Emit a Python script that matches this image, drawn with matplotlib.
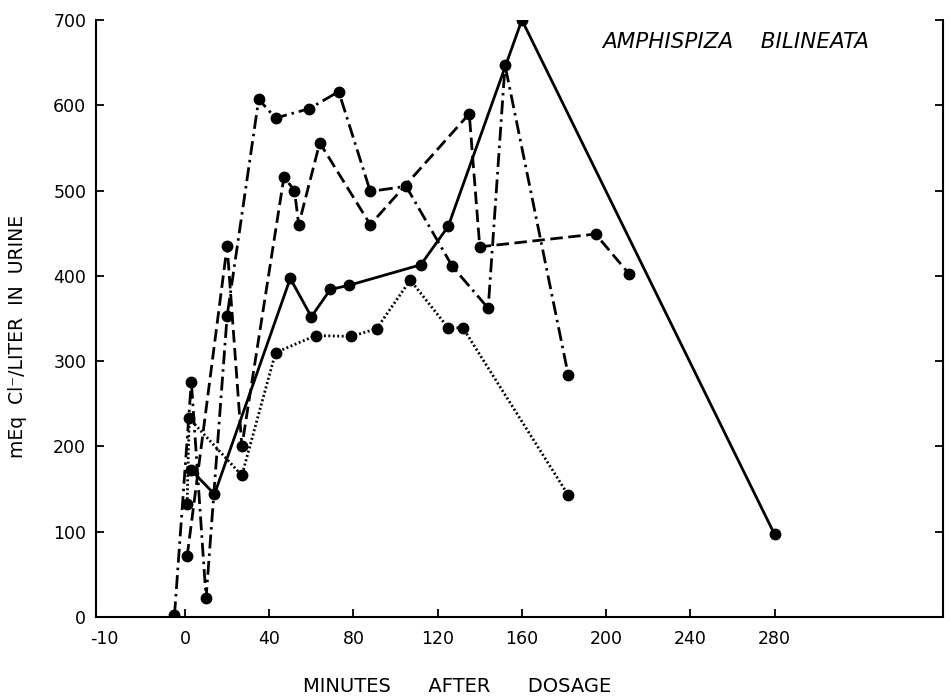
import matplotlib
matplotlib.use("Agg")
import matplotlib.pyplot as plt

# minutes after dosage / mEq Cl- per liter
solid_x = [3, 14, 50, 60, 69, 78, 112, 125, 160, 280]
solid_y = [172, 144, 397, 352, 384, 389, 413, 458, 700, 97]

dashed_x = [1, 20, 27, 47, 52, 54, 64, 88, 135, 140, 195, 211]
dashed_y = [71, 435, 200, 516, 500, 460, 556, 460, 590, 434, 449, 402]

dashdot_x = [-5, 3, 10, 20, 35, 43, 59, 73, 88, 105, 127, 144, 152, 182]
dashdot_y = [2, 276, 22, 353, 607, 585, 596, 616, 499, 505, 411, 362, 647, 284]

dotted_x = [1, 2, 27, 43, 62, 79, 91, 107, 125, 132, 182]
dotted_y = [133, 233, 166, 310, 330, 329, 338, 395, 339, 339, 143]

xticks = [0, 40, 80, 120, 160, 200, 240, 280]
yticks = [0, 100, 200, 300, 400, 500, 600, 700]

plt.rcParams["font.family"] = "DejaVu Sans"

fig = plt.figure(figsize=(9.5, 6.96), dpi=100)
ax = fig.add_axes([0.101, 0.1135, 0.8916, 0.8578])

kw = dict(color="black", lw=2.0, marker="o", ms=7.5, mfc="black", mec="black")
ax.plot(solid_x, solid_y, ls="-", **kw)
ax.plot(dashed_x, dashed_y, ls=(0, (4.5, 2)), **kw)
ax.plot(dashdot_x, dashdot_y, ls=(0, (5, 1.8, 0.9, 1.8)), **kw)
ax.plot(dotted_x, dotted_y, ls=(0, (0.7, 0.9)), **kw)

ax.set_xlim(-42.3, 360)
ax.set_ylim(0, 700)
ax.set_xticks(xticks)
ax.set_yticks(yticks)
ax.tick_params(direction="in", length=6, width=1.3, labelsize=12.5, pad=9,
               right=True, top=False)
ax.tick_params(axis="y", pad=7)
ax.spines["top"].set_visible(False)
for s in ["left", "right", "bottom"]:
    ax.spines[s].set_linewidth(1.5)
ax.text(-38.5, -0.021, "-10", transform=ax.get_xaxis_transform(),
        ha="center", va="top", fontsize=12.5)

ax.text(0.755, 0.963, "AMPHISPIZA    BILINEATA", transform=ax.transAxes,
        ha="center", va="center", fontsize=15.5, style="italic")

fig.text(457 / 950, 1 - 686 / 696, "MINUTES      AFTER      DOSAGE",
         ha="center", va="center", fontsize=14)
fig.text(18 / 950, 1 - 336 / 696, "mEq  Cl\u207b/LITER  IN  URINE",
         ha="center", va="center", rotation=90, fontsize=13.5)

fig.savefig("out.png", dpi=100)
